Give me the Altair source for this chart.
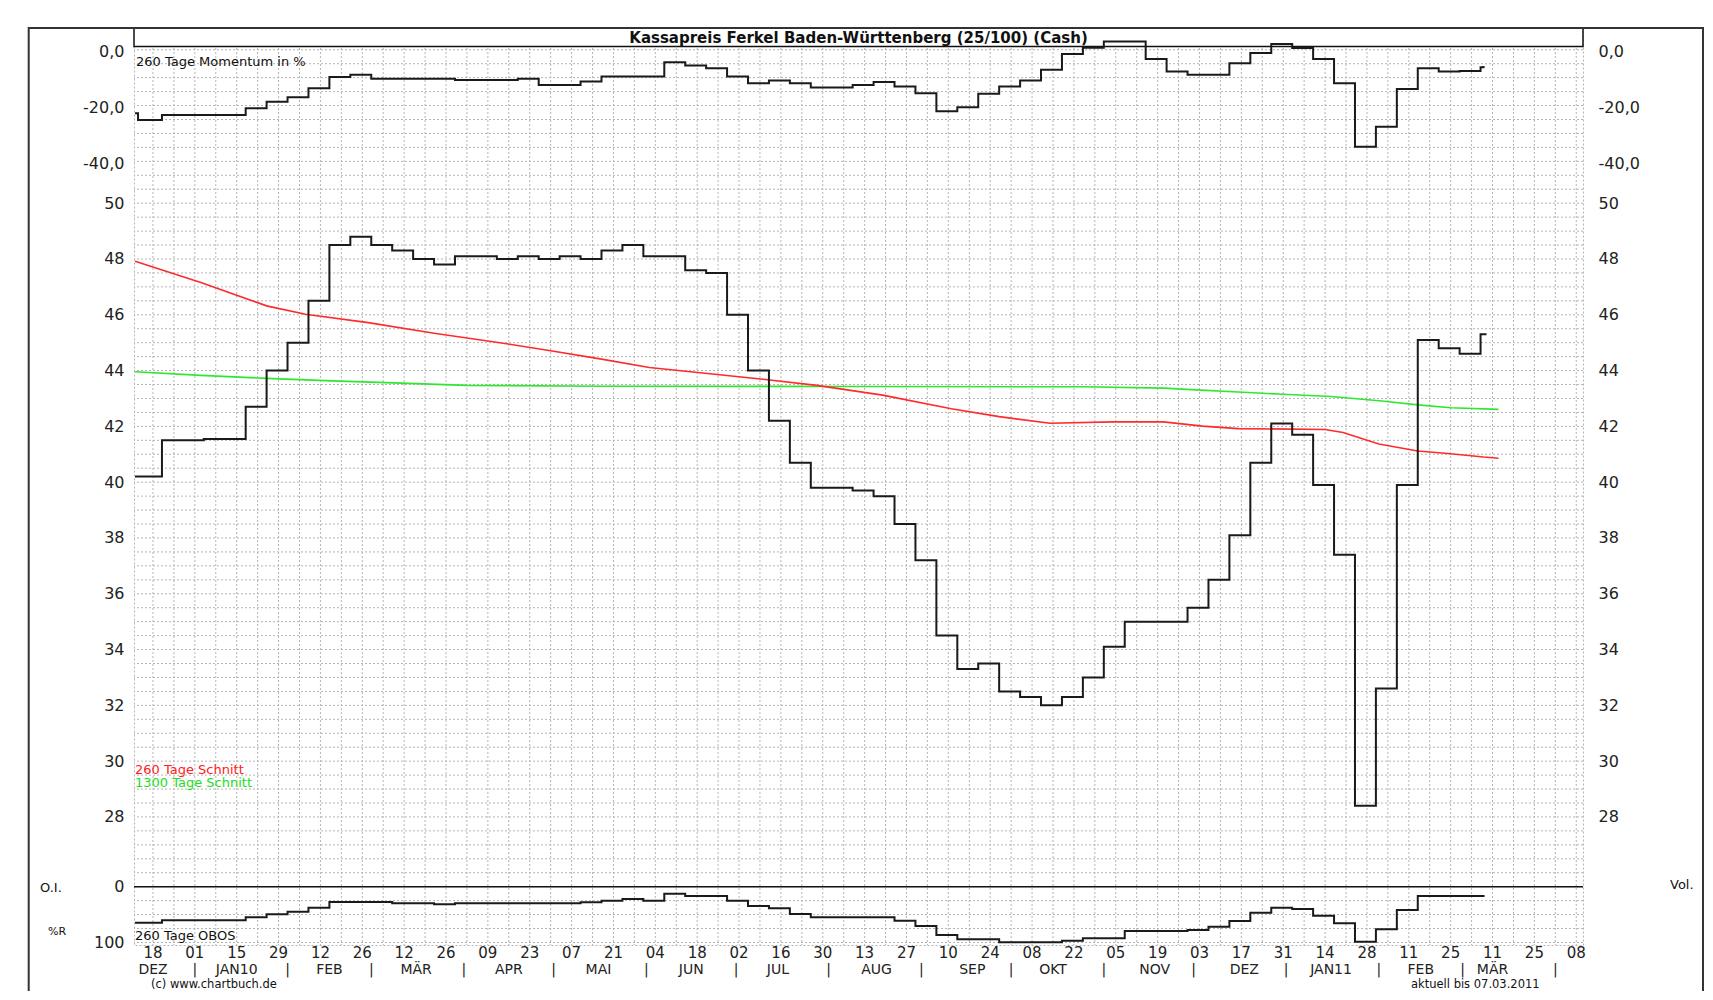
import altair as alt
import pandas as pd

TITLE = "Kassapreis Ferkel Baden-Württenberg (25/100) (Cash)"

# ---------------- data ----------------
WEEK_START = "2009-12-21"          # Monday of first weekly note
PRICE_FIRST_DATE = "2009-12-12"
PRICE_FIRST = 40.2
PRICE = [41.5, 41.5, 41.55, 41.55, 42.7, 44.0, 45.0, 46.5, 48.5, 48.8,
         48.5, 48.3, 48.0, 47.8, 48.1, 48.1, 48.0, 48.1, 48.0, 48.1,
         48.0, 48.3, 48.5, 48.1, 48.1, 47.6, 47.5, 46.0, 44.0, 42.2,
         40.7, 39.8, 39.8, 39.7, 39.5, 38.5, 37.2, 34.5, 33.3, 33.5,
         32.5, 32.3, 32.0, 32.3, 33.0, 34.1, 35.0, 35.0, 35.0, 35.5,
         36.5, 38.1, 40.7, 42.1, 41.7, 39.9, 37.4, 28.4, 32.6, 39.9,
         45.1, 44.8, 44.6, 45.3]
PRICE_LAST_DATE = "2011-03-09"

MOM_FIRST_DATES = ["2009-12-12", "2009-12-13"]
MOM_FIRST = [-22.0, -24.4]
MOMENTUM = [-22.6, -22.6, -22.6, -22.6, -20.2, -17.8, -16.2, -13.0, -9.0, -8.2,
            -9.6, -9.6, -9.6, -9.6, -10.0, -10.0, -10.0, -9.6, -11.8, -11.8,
            -10.6, -8.8, -8.8, -8.8, -3.7, -4.8, -5.8, -8.8, -11.2, -10.2,
            -11.2, -12.7, -12.7, -11.8, -10.8, -12.4, -14.8, -21.2, -19.8, -15.0,
            -12.4, -10.2, -6.4, -0.7, 1.5, 3.8, 3.8, -2.5, -7.0, -8.2,
            -8.2, -4.0, -0.4, 2.9, 1.4, -2.5, -11.2, -34.0, -26.8, -13.3,
            -5.8, -7.0, -6.8, -5.5]
MOM_LAST_DATE = "2011-03-08"
MOM_LAST = -5.0

OBOS_FIRST_DATE = "2009-12-12"
OBOS_FIRST = 64.5
OBOS = [60.3, 60.3, 60.3, 60.3, 54.9, 49.5, 44.8, 37.6, 27.4, 27.4,
        27.4, 29.8, 29.8, 31.5, 29.8, 29.8, 29.8, 29.8, 29.8, 29.8,
        28.0, 25.1, 22.0, 25.1, 12.5, 16.7, 16.7, 25.1, 34.6, 38.7,
        48.9, 54.9, 54.9, 54.9, 54.9, 60.9, 70.4, 86.6, 94.3, 94.3,
        99.7, 99.7, 99.7, 96.8, 92.5, 92.5, 79.4, 79.4, 79.4, 77.6,
        71.7, 61.5, 46.6, 37.6, 40.0, 52.0, 65.6, 98.6, 76.3, 41.8,
        16.7, 16.7, 16.7, 16.7]
OBOS_LAST_DATE = "2011-03-08"
OBOS_LAST = 15.0

SMA260_DATES = ["2009-12-12", "2010-01-03", "2010-01-25", "2010-02-07", "2010-02-28",
                "2010-03-22", "2010-04-13", "2010-04-30", "2010-05-17", "2010-06-02",
                "2010-06-19", "2010-07-10", "2010-07-28", "2010-08-19", "2010-09-11",
                "2010-09-27", "2010-10-14", "2010-11-04", "2010-11-21", "2010-12-04",
                "2010-12-16", "2011-01-14", "2011-01-20", "2011-02-01", "2011-02-14",
                "2011-02-25", "2011-03-08", "2011-03-13"]
SMA260 = [47.92, 47.16, 46.32, 46.02, 45.72,
          45.34, 45.0, 44.71, 44.41, 44.11,
          43.92, 43.69, 43.47, 43.12, 42.63,
          42.35, 42.11, 42.16, 42.16, 42.01,
          41.92, 41.89, 41.78, 41.37, 41.12,
          41.02, 40.90, 40.86]

SMA1300_DATES = ["2009-12-12", "2010-01-03", "2010-01-25", "2010-02-16", "2010-03-11",
                 "2010-04-02", "2010-05-17", "2010-08-14", "2010-10-25", "2010-11-21",
                 "2010-12-02", "2010-12-16", "2010-12-31", "2011-01-16", "2011-02-02",
                 "2011-02-14", "2011-02-25", "2011-03-13"]
SMA1300 = [43.96, 43.83, 43.72, 43.63, 43.55,
           43.47, 43.44, 43.43, 43.42, 43.37,
           43.31, 43.23, 43.15, 43.07, 42.91,
           42.77, 42.67, 42.61]

# x-axis: day labels every two weeks (Fridays), month row below
DAY_TICK_FIRST = "2009-12-18"
DAY_TICK_LAST = "2011-04-08"
DAY_LABELS = ["18", "01", "15", "29", "12", "26", "12", "26", "09", "23", "07", "21",
              "04", "18", "02", "16", "30", "13", "27", "10", "24", "08", "22", "05",
              "19", "03", "17", "31", "14", "28", "11", "25", "11", "25", "08"]
MONTHS = ["DEZ", "JAN10", "FEB", "MÄR", "APR", "MAI", "JUN", "JUL", "AUG",
          "SEP", "OKT", "NOV", "DEZ", "JAN11", "FEB", "MÄR"]
MONTH_POS = ["2009-12-18", "2010-01-15", "2010-02-15", "2010-03-16", "2010-04-16",
             "2010-05-16", "2010-06-16", "2010-07-15", "2010-08-17", "2010-09-18",
             "2010-10-15", "2010-11-18", "2010-12-18", "2011-01-16", "2011-02-15",
             "2011-03-11"]
MONTH_STARTS = ["2010-01-01", "2010-02-01", "2010-03-01", "2010-04-01", "2010-05-01",
                "2010-06-01", "2010-07-01", "2010-08-01", "2010-09-01", "2010-10-01",
                "2010-11-01", "2010-12-01", "2011-01-01", "2011-02-01", "2011-03-01",
                "2011-04-01"]

PRICE_TICKS = [28, 30, 32, 34, 36, 38, 40, 42, 44, 46, 48, 50]
MOM_TICKS = [0, -20, -40]
MOM_TICK_LABELS = ["0,0", "-20,0", "-40,0"]
OBOS_TICKS = [0, 100]

# ---------------- layout of the shared vertical scale ----------------
PLOT_W, PLOT_H = 1449, 917
Y_TOP, Y_BOT = 56.28, 23.41
M0, MK = 55.42, 0.1      # momentum panel placement
O0, OK = 25.5, 0.02      # OBOS panel placement
GRID_STEP = 0.5


def ms(s):
    return int(pd.Timestamp(s).value // 10**6)


DAY = 86400000
T18 = ms(DAY_TICK_FIRST)
X_DOMAIN = [int(T18 - 6.35 * DAY), int(T18 + 478.26 * DAY)]
xscale = alt.Scale(type="utc", domain=X_DOMAIN)
yscale = alt.Scale(domain=[Y_BOT, Y_TOP], nice=False, zero=False)

weeks = pd.date_range(WEEK_START, periods=len(PRICE), freq="7D").strftime("%Y-%m-%d").tolist()
grid_weeks = pd.date_range(DAY_TICK_FIRST, DAY_TICK_LAST, freq="7D").strftime("%Y-%m-%d").tolist()
day_dates = pd.date_range(DAY_TICK_FIRST, periods=len(DAY_LABELS), freq="14D").strftime("%Y-%m-%d").tolist()

price_df = pd.DataFrame({"date": [PRICE_FIRST_DATE] + weeks + [PRICE_LAST_DATE],
                         "v": [PRICE_FIRST] + PRICE + [PRICE[-1]]})
mom_df = pd.DataFrame({"date": MOM_FIRST_DATES + weeks + [MOM_LAST_DATE],
                       "m": MOM_FIRST + MOMENTUM + [MOM_LAST]})
obos_df = pd.DataFrame({"date": [OBOS_FIRST_DATE] + weeks + [OBOS_LAST_DATE],
                        "o": [OBOS_FIRST] + OBOS + [OBOS_LAST]})
sma260_df = pd.DataFrame({"date": SMA260_DATES, "v": SMA260})
sma1300_df = pd.DataFrame({"date": SMA1300_DATES, "v": SMA1300})
day_df = pd.DataFrame({"date": day_dates, "t": DAY_LABELS})
month_df = pd.DataFrame({"date": MONTH_POS, "t": MONTHS})
sep_df = pd.DataFrame({"date": MONTH_STARTS, "t": ["|"] * len(MONTH_STARTS)})
vgrid_df = pd.DataFrame({"date": grid_weeks})
hgrid_df = pd.DataFrame({"p": [Y_BOT + 0.09 + GRID_STEP * i for i in range(66)]})

# ---------------- y axes (left and right) ----------------
mom_pos = [M0 + m * MK for m in MOM_TICKS]
obos_pos = [O0 - o * OK for o in OBOS_TICKS]
price_pos = [float(p) for p in PRICE_TICKS]


def label_expr(pairs):
    s = ""
    for p, lab in pairs:
        s += f"datum.value == {repr(p)} ? '{lab}' : "
    return s + "''"


left_pairs = list(zip(mom_pos, MOM_TICK_LABELS)) + [(p, str(int(p))) for p in price_pos] + \
             [(p, str(o)) for p, o in zip(obos_pos, OBOS_TICKS)]
right_pairs = list(zip(mom_pos, MOM_TICK_LABELS)) + [(p, str(int(p))) for p in price_pos]

y_left = alt.Axis(values=[p for p, _ in left_pairs], grid=False, title=None, labelPadding=10,
                  labelExpr=label_expr(left_pairs))
y_right = alt.Axis(values=[p for p, _ in right_pairs], grid=False, title=None, orient="right",
                   labelPadding=15, labelExpr=label_expr(right_pairs))


def X():
    return alt.X("date:T", scale=xscale, axis=None)


def Y(field, ax=None):
    return alt.Y(field, scale=yscale, axis=ax)


GRID = dict(color="#b4b4b4", strokeWidth=1, strokeDash=[2, 2])
FONT = "DejaVu Sans"

# ---------------- layers ----------------
vgrid = alt.Chart(vgrid_df).mark_rule(**GRID).encode(x=X())
hgrid = alt.Chart(hgrid_df).mark_rule(**GRID).encode(y=Y("p:Q"))

title_box = alt.Chart(pd.DataFrame({"t": [TITLE]})).mark_rect(
    fill="white", stroke="#111", strokeWidth=1.5).encode(
    x=alt.value(0), x2=alt.value(PLOT_W), y=alt.value(0), y2=alt.value(18.4))
title_txt = alt.Chart(pd.DataFrame({"t": [TITLE]})).mark_text(
    font=FONT, fontSize=15, fontWeight="bold", color="#111",
    align="center", baseline="middle").encode(
    text="t:N", x=alt.value(PLOT_W / 2), y=alt.value(9.6))

zero_rule = alt.Chart(pd.DataFrame({"o": [0]})).transform_calculate(
    p=f"{O0} - datum.o * {OK}").mark_rule(color="#111", strokeWidth=1.5).encode(y=Y("p:Q"))

green = alt.Chart(sma1300_df).mark_line(color="#2ee82e", strokeWidth=1.6).encode(x=X(), y=Y("v:Q"))
red = alt.Chart(sma260_df).mark_line(color="#ff2a2a", strokeWidth=1.6).encode(x=X(), y=Y("v:Q"))
price = alt.Chart(price_df).mark_line(color="#1a1a1a", strokeWidth=2, interpolate="step-after").encode(
    x=X(), y=Y("v:Q", y_left))
mom = alt.Chart(mom_df).transform_calculate(p=f"{M0} + datum.m * {MK}").mark_line(
    color="#1a1a1a", strokeWidth=2, interpolate="step-after").encode(x=X(), y=Y("p:Q"))
obos = alt.Chart(obos_df).transform_calculate(p=f"{O0} - datum.o * {OK}").mark_line(
    color="#1a1a1a", strokeWidth=2, interpolate="step-after").encode(x=X(), y=Y("p:Q"))

days = alt.Chart(day_df).mark_text(font=FONT, fontSize=15, color="#222",
                                   baseline="middle").encode(
    x=X(), text="t:N", y=alt.value(924.5))
months = alt.Chart(month_df).mark_text(font=FONT, fontSize=14, color="#222",
                                       baseline="middle").encode(
    x=X(), text="t:N", y=alt.value(942))
seps = alt.Chart(sep_df).mark_text(font=FONT, fontSize=14, color="#222",
                                   baseline="middle").encode(
    x=X(), text="t:N", y=alt.value(942))

ANNOT = [
    ("260 Tage Momentum in %", 2, 33.7, "#111", 13),
    ("260 Tage Schnitt", 1, 742, "#ff2020", 13),
    ("1300 Tage Schnitt", 1, 755.3, "#22dd22", 13),
    ("260 Tage OBOS", 1, 908, "#111", 13),
    ("O.I.", -94, 860.3, "#111", 13),
    ("%R", -86, 903.7, "#111", 11),
    ("Vol.", 1536, 857, "#111", 13),
    ("(c) www.chartbuch.de", 17, 956.5, "#111", 11.5),
    ("aktuell bis 07.03.2011", 1277, 956.5, "#111", 11.5),
]
annots = []
for txt, ax, ay, col, fs in ANNOT:
    annots.append(alt.Chart(pd.DataFrame({"t": [txt]})).mark_text(
        font=FONT, fontSize=fs, color=col, align="left", baseline="middle").encode(
        text="t:N", x=alt.value(ax), y=alt.value(ay)))

frame = alt.Chart(pd.DataFrame({"t": ["frame"]})).mark_rect(
    fillOpacity=0, stroke="#333", strokeWidth=2).encode(
    x=alt.value(-105.3), x2=alt.value(1569), y=alt.value(0), y2=alt.value(1200))

right = alt.Chart(price_df).mark_line(opacity=0).encode(x=X(), y=Y("v:Q", y_right))

chart = alt.layer(vgrid, hgrid, title_box, title_txt, zero_rule, green, red, price, mom, obos,
                  days, months, seps, *annots, frame, right).resolve_scale(y="independent").properties(
    width=PLOT_W, height=PLOT_H,
    autosize=alt.AutoSizeParams(type="none"),
    padding={"left": 126, "top": 20, "right": 122, "bottom": 46},
).configure(background="white").configure_view(
    stroke="#b4b4b4", strokeDash=[2, 2], strokeWidth=1
).configure_axis(
    domain=False, ticks=False, tickSize=0, labelFont=FONT, labelFontSize=16,
    labelColor="#222", labelOverlap=False, labelFlush=False
)

chart.save("out.html", embed_options={"renderer": "svg", "actions": False})
